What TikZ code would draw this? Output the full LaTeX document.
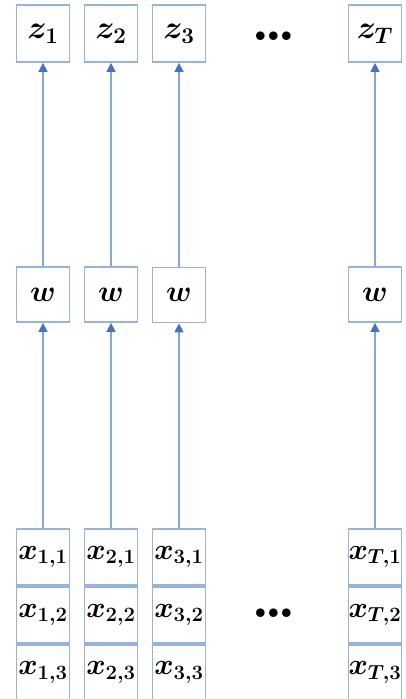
\documentclass[tikz,border=0pt]{standalone}
\usepackage{graphicx}
\usetikzlibrary{arrows.meta}
\definecolor{boxblue}{RGB}{150,178,225}
\definecolor{arrblue}{RGB}{68,114,196}
\DeclareMathSizes{24.88}{24.88}{18}{14}
\newcommand{\cellmath}[2][1.18]{\scalebox{#1}{\Huge\boldmath$#2$}}
\newcommand{\celldots}{\scalebox{2.4}{\Huge\bfseries .\hspace{-2.5pt}.\hspace{-2.5pt}.}}
\begin{document}
\begin{tikzpicture}[x=1pt,y=-1pt,
  cell/.style={draw=boxblue,line width=1.8pt,inner sep=0pt,minimum width=53pt},
  zbox/.style={cell,minimum height=57pt},
  wbox/.style={cell,minimum height=55pt},
  xbox/.style={cell,minimum height=56pt},
  link/.style={draw=boxblue!80!arrblue,line width=1.5pt,-{Triangle[length=9pt,width=9pt,color=arrblue]}},
  dots/.style={inner sep=0pt,text height=9pt,text depth=0pt}]
\useasboundingbox (0,0) rectangle (405,699);
% top row
\node[zbox] (z1) at (43,33.5) {\cellmath[1.3]{z_1}};
\node[zbox] (z2) at (111,33.5) {\cellmath[1.3]{z_2}};
\node[zbox] (z3) at (179,33.5) {\cellmath[1.3]{z_3}};
\node[zbox] (zT) at (375,33.5) {\cellmath[1.3]{z_T}};
\node[dots,anchor=base] (dtop) at (274,40) {\celldots};
% middle row
\node[wbox] (w1) at (43,294.5) {\cellmath[1.2]{w}};
\node[wbox] (w2) at (111,294.5) {\cellmath[1.2]{w}};
\node[wbox] (w3) at (179,295) {\cellmath[1.2]{w}};
\node[wbox] (wT) at (375,294.5) {\cellmath[1.2]{w}};
% bottom stacks
\foreach \c/\xx/\lab in {1/43/1, 2/111/2, 3/179/3, T/375/T}{
  \node[xbox] (x\c1) at (\xx,557) {\cellmath{x_{\lab,1}}};
  \node[xbox,anchor=north] (x\c2) at (x\c1.south) {\cellmath{x_{\lab,2}}};
  \node[xbox,anchor=north] (x\c3) at (x\c2.south) {\cellmath{x_{\lab,3}}};
}
\node[dots,anchor=base] (dbot) at (274,617) {\celldots};
% connectors
\foreach \c in {1,2,3,T}{
  \draw[link] (x\c1.north) -- (w\c.south);
  \draw[link] (w\c.north) -- (z\c.south);
}
\end{tikzpicture}
\end{document}
